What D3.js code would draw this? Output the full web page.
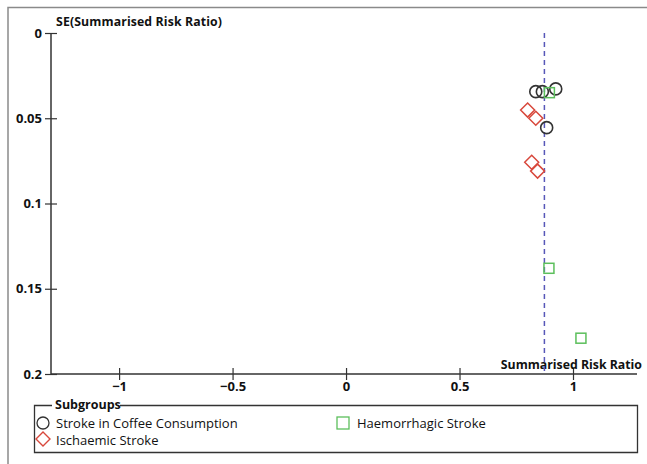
<!DOCTYPE html>
<html>
<head>
<meta charset="utf-8">
<script src="https://cdn.jsdelivr.net/npm/d3@7"></script>
<style>
  body { margin: 0; background: #fff; }
  svg text { font-family: "Open Sans", "DejaVu Sans", sans-serif; fill: #111; }
</style>
</head>
<body>
<svg id="chart" width="647" height="464"></svg>
<script>
// summarised risk ratio (x) and its standard error (y) per study, by subgroup
var coffeeRR = [0.836, 0.865, 0.924, 0.884];
var coffeeSE = [0.0344, 0.0344, 0.0328, 0.0555];
var ischaemicRR = [0.800, 0.836, 0.818, 0.844];
var ischaemicSE = [0.0452, 0.0500, 0.0758, 0.0810];
var haemorrhagicRR = [0.896, 0.894, 1.035];
var haemorrhagicSE = [0.0350, 0.1380, 0.1790];
var pooledRR = 0.874;

var xTicks = [-1, -0.5, 0, 0.5, 1];
var yTicks = [0, 0.05, 0.1, 0.15, 0.2];
var subgroupNames = ["Stroke in Coffee Consumption", "Ischaemic Stroke", "Haemorrhagic Stroke"];

var svg = d3.select("#chart");

// outer frame (only top and left edges show)
svg.append("path")
	.attr("d", "M 8 464 L 8 7.5 L 647 7.5")
	.attr("fill", "none")
	.attr("stroke", "#8a8a8a")
	.attr("stroke-width", 1.5);

var x = d3.scaleLinear().domain([-1.3, 1.282]).range([51, 637]);
var y = d3.scaleLinear().domain([0, 0.2]).range([33, 374]);

function fmt(d) { return d < 0 ? "\u2212" + Math.abs(d) : String(d); }

var xAxis = svg.append("g")
	.attr("transform", "translate(0," + y(0.2) + ")")
	.call(d3.axisBottom(x).tickValues(xTicks).tickSize(6).tickFormat(fmt));
xAxis.selectAll(".tick line").attr("y1", -6);
var yAxis = svg.append("g")
	.attr("transform", "translate(" + x(-1.3) + ",0)")
	.call(d3.axisLeft(y).tickValues(yTicks).tickSize(6).tickFormat(function(d){ return String(d); }));
yAxis.selectAll(".tick line").attr("x1", 6);

[xAxis, yAxis].forEach(function(a){
	a.select(".domain").remove();
	a.selectAll(".tick line").attr("stroke", "#333").attr("stroke-width", 1.2);
	a.selectAll("text").style("font-weight", "bold").style("font-size", "13px").attr("fill", "#111");
});
svg.append("line").attr("x1", x(-1.3)).attr("x2", x(1.282)).attr("y1", y(0.2)).attr("y2", y(0.2))
	.attr("stroke", "#333").attr("stroke-width", 1.5);
svg.append("line").attr("x1", x(-1.3)).attr("x2", x(-1.3)).attr("y1", y(0)).attr("y2", y(0.2))
	.attr("stroke", "#333").attr("stroke-width", 1.5);
xAxis.selectAll("text").attr("y", 8);
yAxis.selectAll("text").attr("x", -9);

// axis titles
svg.append("text").attr("x", 56).attr("y", 26)
	.style("font-weight", "bold").style("font-size", "12.3px")
	.attr("textLength", 166)
	.text("SE(Summarised Risk Ratio)");
svg.append("text").attr("x", 642).attr("y", 369).attr("text-anchor", "end")
	.style("font-weight", "bold").style("font-size", "12.3px")
	.text("Summarised Risk Ratio");

// pooled estimate
svg.append("line")
	.attr("x1", x(pooledRR)).attr("x2", x(pooledRR))
	.attr("y1", y(0)).attr("y2", y(0.2))
	.attr("stroke", "#5757b8").attr("stroke-width", 1.5)
	.attr("stroke-dasharray", "5,4");

function pts(rr, se) { return rr.map(function(v, i){ return {rr: v, se: se[i]}; }); }

svg.selectAll("circle.coffee")
	.data(pts(coffeeRR, coffeeSE))
	.enter()
	.append("circle")
	.attr("class", "coffee")
	.attr("cx", function(d){ return x(d.rr); })
	.attr("cy", function(d){ return y(d.se); })
	.attr("r", 6)
	.attr("fill", "none")
	.attr("stroke", "#333")
	.attr("stroke-width", 1.6);

svg.selectAll("path.isch")
	.data(pts(ischaemicRR, ischaemicSE))
	.enter()
	.append("path")
	.attr("class", "isch")
	.attr("d", function(d){
		var cx = x(d.rr), cy = y(d.se), r = 7;
		return "M " + cx + " " + (cy - r) + " L " + (cx + r) + " " + cy +
			" L " + cx + " " + (cy + r) + " L " + (cx - r) + " " + cy + " Z";
	})
	.attr("fill", "none")
	.attr("stroke", "#d8483c")
	.attr("stroke-width", 1.5);

svg.selectAll("rect.haem")
	.data(pts(haemorrhagicRR, haemorrhagicSE))
	.enter()
	.append("rect")
	.attr("class", "haem")
	.attr("x", function(d){ return x(d.rr) - 5; })
	.attr("y", function(d){ return y(d.se) - 5; })
	.attr("width", 10)
	.attr("height", 10)
	.attr("fill", "none")
	.attr("stroke", "#5cbf5c")
	.attr("stroke-width", 1.5);

// legend
var lg = svg.append("g");
lg.append("path")
	.attr("d", "M 52 405.5 L 34.5 405.5 L 34.5 452.5 L 637.5 452.5 L 637.5 405.5 L 120 405.5")
	.attr("fill", "none").attr("stroke", "#333").attr("stroke-width", 1.3);
lg.append("text").attr("x", 55).attr("y", 409)
	.style("font-weight", "bold").style("font-size", "12.5px").text("Subgroups");
lg.append("circle").attr("cx", 43).attr("cy", 423).attr("r", 6)
	.attr("fill", "none").attr("stroke", "#333").attr("stroke-width", 1.3);
lg.append("path").attr("d", "M 43 432 L 50 439 L 43 446 L 36 439 Z")
	.attr("fill", "none").attr("stroke", "#d8483c").attr("stroke-width", 1.4);
lg.append("rect").attr("x", 337).attr("y", 417).attr("width", 12).attr("height", 12)
	.attr("fill", "none").attr("stroke", "#5cbf5c").attr("stroke-width", 1.3);
var legendPos = [[56, 428], [56, 444.5], [357, 428]];
subgroupNames.forEach(function(n, i){
	lg.append("text").attr("x", legendPos[i][0]).attr("y", legendPos[i][1])
		.style("font-size", "13px").text(n);
});
</script>
</body>
</html>
